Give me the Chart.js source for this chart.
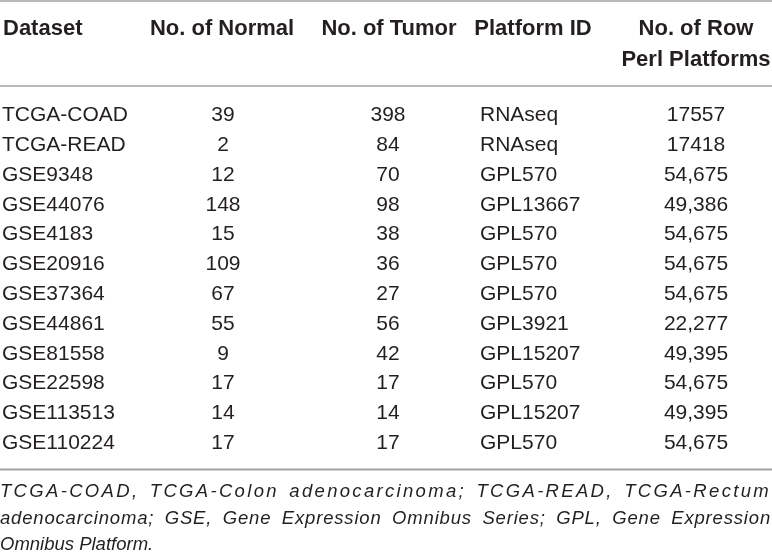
<!DOCTYPE html>
<html>
<head>
<meta charset="utf-8">
<script src="https://cdn.jsdelivr.net/npm/chart.js@4.4.1/dist/chart.umd.min.js"></script>
<style>
  html, body { margin: 0; padding: 0; background: #ffffff; }
  #wrap { width: 772px; height: 557px; position: relative; }
</style>
</head>
<body>
<div id="wrap"><canvas id="table-chart"></canvas></div>
<script>
// table values
const datasetNames = ['TCGA-COAD', 'TCGA-READ', 'GSE9348', 'GSE44076', 'GSE4183', 'GSE20916',
  'GSE37364', 'GSE44861', 'GSE81558', 'GSE22598', 'GSE113513', 'GSE110224'];
const normalCounts = [39, 2, 12, 148, 15, 109, 67, 55, 9, 17, 14, 17];
const tumorCounts = [398, 84, 70, 98, 38, 36, 27, 56, 42, 17, 14, 17];
const platformIds = ['RNAseq', 'RNAseq', 'GPL570', 'GPL13667', 'GPL570', 'GPL570',
  'GPL570', 'GPL3921', 'GPL15207', 'GPL570', 'GPL15207', 'GPL570'];
const rowCounts = ['17557', '17418', '54,675', '49,386', '54,675', '54,675',
  '54,675', '22,277', '49,395', '54,675', '49,395', '54,675'];
const headerLabels = [['Dataset'], ['No. of Normal'], ['No. of Tumor'], ['Platform ID'], ['No. of Row', 'Perl Platforms']];
const footnoteLines = [
  'TCGA-COAD, TCGA-Colon adenocarcinoma; TCGA-READ, TCGA-Rectum',
  'adenocarcinoma; GSE, Gene Expression Omnibus Series; GPL, Gene Expression',
  'Omnibus Platform.'
];

// layout (pixel units of the x/y scales)
const W = 772, H = 557;
const ROW_TOP = 115.5, ROW_H = 29.8;
const columns = [
  { x: 2, align: 'left', headX: 3, headAlign: 'left' },
  { x: 223, align: 'center', headX: 222, headAlign: 'center' },
  { x: 388, align: 'center', headX: 389, headAlign: 'center' },
  { x: 480, align: 'left', headX: 533, headAlign: 'center' },
  { x: 696, align: 'center', headX: 696, headAlign: 'center' }
];
const HEAD_Y = [29, 60];
const RULES = [{ y: 1, w: 1.5 }, { y: 86, w: 1.5 }, { y: 469.5, w: 2 }];
const FOOT_Y = [492, 519, 545];
const WORD_GAP = 10.5;
const TEXT = '#231f20';
const FONT = '"Liberation Sans", Arial, sans-serif';

const columnValues = [datasetNames, normalCounts, tumorCounts, platformIds, rowCounts];

const cellDatasets = columnValues.map((values, c) => ({
  label: headerLabels[c].join(' '),
  data: values.map((v, i) => ({ x: columns[c].x, y: ROW_TOP + i * ROW_H, text: String(v) })),
  pointRadius: 0,
  align: columns[c].align
}));

const tablePlugin = {
  id: 'tableText',
  afterDatasetsDraw(chart) {
    const { ctx, scales } = chart;
    const xs = scales.x, ys = scales.y;
    ctx.save();
    ctx.fillStyle = TEXT;
    ctx.textBaseline = 'middle';

    // body cells
    ctx.font = '21px ' + FONT;
    chart.data.datasets.forEach((ds, di) => {
      const meta = chart.getDatasetMeta(di);
      ctx.textAlign = ds.align;
      meta.data.forEach((el, i) => {
        ctx.fillText(ds.data[i].text, el.x, el.y);
      });
    });

    // headers
    ctx.font = 'bold 22px ' + FONT;
    headerLabels.forEach((lines, c) => {
      ctx.textAlign = columns[c].headAlign;
      lines.forEach((line, li) => {
        ctx.fillText(line, xs.getPixelForValue(columns[c].headX), ys.getPixelForValue(HEAD_Y[li]));
      });
    });

    // rules
    ctx.strokeStyle = '#a3a3a3';
    RULES.forEach(r => {
      ctx.lineWidth = r.w;
      ctx.beginPath();
      ctx.moveTo(xs.getPixelForValue(0), ys.getPixelForValue(r.y));
      ctx.lineTo(xs.getPixelForValue(W), ys.getPixelForValue(r.y));
      ctx.stroke();
    });

    // footnote, justified except last line (extra room goes into letter spacing)
    ctx.font = 'italic 18.5px ' + FONT;
    ctx.textAlign = 'left';
    const left = xs.getPixelForValue(0), right = xs.getPixelForValue(W - 1);
    footnoteLines.forEach((line, li) => {
      const y = ys.getPixelForValue(FOOT_Y[li]);
      ctx.letterSpacing = '0px';
      if (li === footnoteLines.length - 1) {
        ctx.fillText(line, left, y);
        return;
      }
      const words = line.split(' ');
      const chars = words.reduce((s, w) => s + w.length, 0);
      const natural = words.reduce((s, w) => s + ctx.measureText(w).width, 0);
      const ls = Math.max(0, (right - left - natural - WORD_GAP * (words.length - 1)) / chars);
      ctx.letterSpacing = ls.toFixed(2) + 'px';
      const widths = words.map(w => ctx.measureText(w).width);
      const gap = (right - left - widths.reduce((s, v) => s + v, 0)) / (words.length - 1);
      let x = left;
      words.forEach((w, wi) => {
        ctx.fillText(w, x, y);
        x += widths[wi] + gap;
      });
    });
    ctx.restore();
  }
};

new Chart(document.getElementById('table-chart'), {
  type: 'scatter',
  data: { datasets: cellDatasets },
  options: {
    responsive: true,
    maintainAspectRatio: false,
    animation: false,
    layout: { padding: 0 },
    scales: {
      x: { type: 'linear', min: 0, max: W, display: false },
      y: { type: 'linear', min: 0, max: H, reverse: true, display: false }
    },
    plugins: { legend: { display: false }, tooltip: { enabled: false } },
    events: []
  },
  plugins: [tablePlugin]
});
</script>
</body>
</html>
